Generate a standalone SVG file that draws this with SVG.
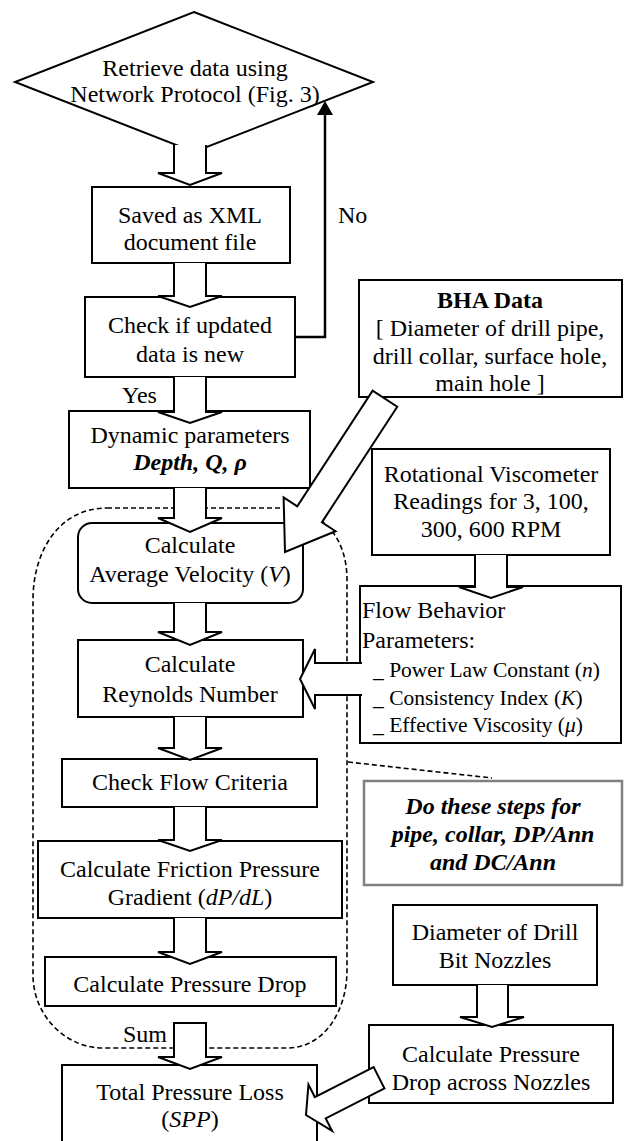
<svg xmlns="http://www.w3.org/2000/svg" width="624" height="1141" viewBox="0 0 624 1141">
<style>
.t{font-family:"Liberation Serif","Times New Roman",serif;font-size:24px;fill:#000;text-anchor:middle}
.l{text-anchor:start}
.s{font-size:21.5px}
.bi{font-weight:bold;font-style:italic}
.i{font-style:italic}
.b{font-weight:bold}
.box{fill:#fff;stroke:#000;stroke-width:2}
.gbox{fill:#fff;stroke:#808080;stroke-width:2.5}
.arr{fill:#fff;stroke:#000;stroke-width:2;stroke-linejoin:miter}
.dash{fill:none;stroke:#000;stroke-width:1.6;stroke-dasharray:5 3}
.line{fill:none;stroke:#000;stroke-width:2.5}
</style>
<defs>
<marker id="ah" markerUnits="userSpaceOnUse" viewBox="0 0 14 16" markerWidth="14" markerHeight="16" refX="5" refY="8" orient="auto">
<path d="M0,0 L14,8 L0,16 Z" fill="#000"/>
</marker>
</defs>
<rect width="624" height="1141" fill="#fff"/>

<g id="loop-region">
<path class="dash" d="M107,508 H280 C320,508 347,535 347,580 V970 C347,1010 325,1048 287,1048 H103 C65,1048 33,1015 33,975 V600 C33,550 60,508 107,508 Z"/>
<path class="dash" d="M348,762 L492,778"/>
</g>

<g id="retrieve">
<polygon class="box" points="194,12 373,82 194,152 15,82"/>
<text class="t" x="195" y="76">Retrieve data using</text>
<text class="t" x="195" y="102">Network Protocol (Fig. 3)</text>
</g>

<g id="saved-xml">
<rect class="box" x="92" y="187" width="198" height="76"/>
<text class="t" x="190" y="223">Saved as XML</text>
<text class="t" x="190" y="250">document file</text>
</g>

<g id="check-updated">
<rect class="box" x="85" y="297" width="210" height="80"/>
<text class="t" x="190" y="333">Check if updated</text>
<text class="t" x="190" y="362">data is new</text>
</g>

<g id="dynamic-params">
<rect class="box" x="69" y="411" width="241" height="77"/>
<text class="t" x="190" y="443">Dynamic parameters</text>
<text class="t bi" x="190" y="470">Depth, Q, ρ</text>
</g>

<g id="calc-velocity">
<rect class="box" x="78" y="523" width="225" height="80" rx="14" ry="14"/>
<text class="t" x="190" y="553">Calculate</text>
<text class="t" x="190" y="582">Average Velocity (<tspan class="i">V</tspan>)</text>
</g>

<g id="calc-reynolds">
<rect class="box" x="78" y="640" width="225" height="77"/>
<text class="t" x="190" y="672">Calculate</text>
<text class="t" x="190" y="702">Reynolds Number</text>
</g>

<g id="check-flow">
<rect class="box" x="62" y="759" width="255" height="48"/>
<text class="t" x="190" y="790">Check Flow Criteria</text>
</g>

<g id="calc-friction">
<rect class="box" x="38" y="841" width="304" height="77"/>
<text class="t" x="190" y="877">Calculate Friction Pressure</text>
<text class="t" x="190" y="905">Gradient (<tspan class="i">dP/dL</tspan>)</text>
</g>

<g id="calc-pressure-drop">
<rect class="box" x="45" y="957" width="291" height="49"/>
<text class="t" x="190" y="992">Calculate Pressure Drop</text>
</g>

<g id="total-loss">
<rect class="box" x="62" y="1065" width="255" height="90"/>
<text class="t" x="190" y="1100">Total Pressure Loss</text>
<text class="t" x="190" y="1127">(<tspan class="i">SPP</tspan>)</text>
</g>

<g id="bha-data">
<rect class="box" x="359" y="280" width="263" height="117"/>
<text class="t b" x="490" y="308">BHA Data</text>
<text class="t" x="490" y="336">[ Diameter of drill pipe,</text>
<text class="t" x="490" y="364">drill collar, surface hole,</text>
<text class="t" x="490" y="391">main hole ]</text>
</g>

<g id="viscometer">
<rect class="box" x="372" y="449" width="238" height="106"/>
<text class="t" x="491" y="482">Rotational Viscometer</text>
<text class="t" x="491" y="509">Readings for 3, 100,</text>
<text class="t" x="491" y="537">300, 600 RPM</text>
</g>

<g id="flow-behavior">
<rect class="box" x="360" y="586" width="261" height="157"/>
<text class="t l" x="362" y="618">Flow Behavior</text>
<text class="t l" x="362" y="648">Parameters:</text>
<text class="t l s" x="373" y="677">_ Power Law Constant (<tspan class="i">n</tspan>)</text>
<text class="t l s" x="373" y="705">_ Consistency Index (<tspan class="i">K</tspan>)</text>
<text class="t l s" x="373" y="732">_ Effective Viscosity (<tspan class="i">μ</tspan>)</text>
</g>

<g id="note">
<rect class="gbox" x="364" y="781" width="258" height="104"/>
<text class="t bi" x="493" y="814" font-size="22">Do these steps for</text>
<text class="t bi" x="493" y="842" font-size="22">pipe, collar, DP/Ann</text>
<text class="t bi" x="493" y="870" font-size="22">and DC/Ann</text>
</g>

<g id="nozzle-diameter">
<rect class="box" x="393" y="905" width="204" height="80"/>
<text class="t" x="495" y="940">Diameter of Drill</text>
<text class="t" x="495" y="968">Bit Nozzles</text>
</g>

<g id="nozzle-drop">
<rect class="box" x="369" y="1025" width="244" height="78"/>
<text class="t" x="491" y="1062">Calculate Pressure</text>
<text class="t" x="491" y="1090">Drop across Nozzles</text>
</g>

<g id="connectors">
<path class="arr" d="M174,145 V173 H158 L190,185 L222,173 H206 V145"/>
<path class="arr" d="M174,263 V296 H158 L190,307 L222,296 H206 V263"/>
<path class="arr" d="M174,377 V412 H158 L190,423 L222,412 H206 V377"/>
<path class="arr" d="M174,488 V518 H158 L190,532 L222,518 H206 V488"/>
<path class="arr" d="M174,603 V632 H158 L190,645 L222,632 H206 V603"/>
<path class="arr" d="M174,717 V748 H158 L190,760 L222,748 H206 V717"/>
<path class="arr" d="M174,807 V840 H158 L190,851 L222,840 H206 V807"/>
<path class="arr" d="M174,918 V952 H158 L190,964 L222,952 H206 V918"/>
<path class="arr" d="M174,1023 V1057 H158 L190,1069 L222,1057 H206 V1023 Z"/>
<path class="arr" d="M475,555 V587 H459 L491,598 L523,587 H507 V555"/>
<path class="arr" d="M477,985 V1017 H460 L492,1027 L524,1017 H508 V985"/>
<path class="arr" d="M362,663 H315 V649 L300,679 L315,709 V695 H362"/>
<path class="arr" transform="translate(285,552) rotate(123.1)" d="M-183,-14.7 H-45 V-31 L0,0 L-45,31 V14.7 H-183 Z"/>
<path class="arr" transform="translate(306,1115) rotate(153)" d="M-82,-12 H-16 V-26 L0,0 L-16,26 V12 H-82 Z"/>
<path class="line" d="M295,337 H325 V110" marker-end="url(#ah)"/>
<text class="t l" x="338" y="223">No</text>
<text class="t l" x="122" y="403">Yes</text>
<text class="t l" x="123" y="1042">Sum</text>
</g>
</svg>
